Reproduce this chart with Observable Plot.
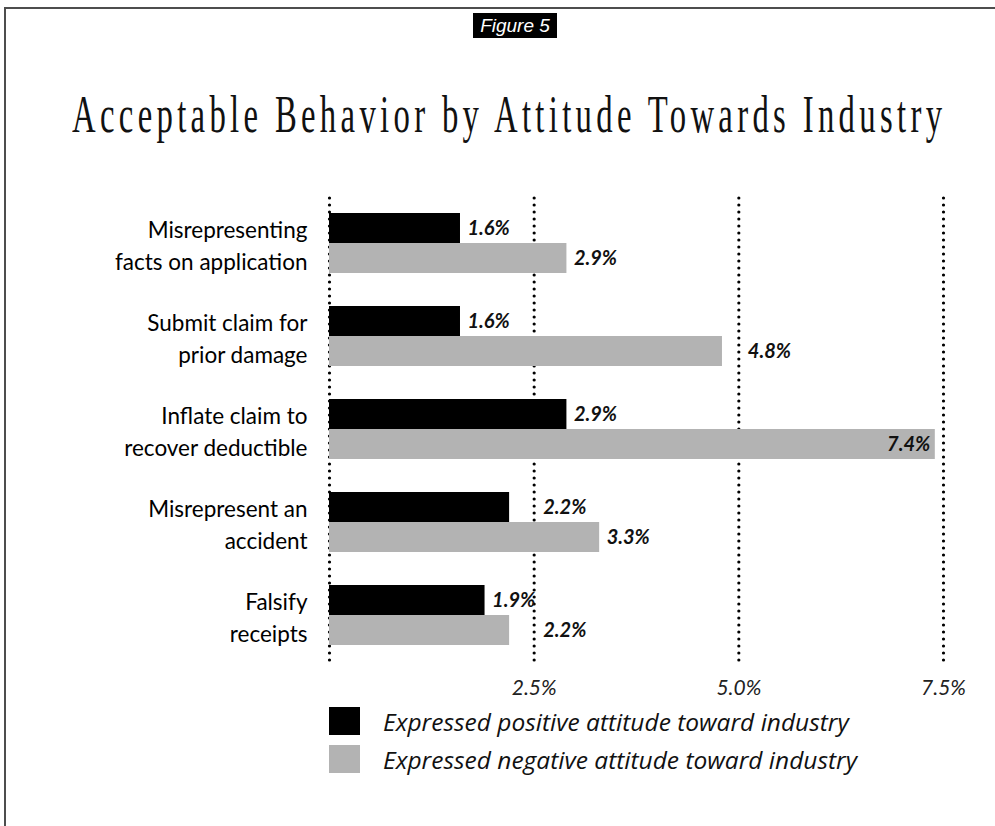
<!DOCTYPE html>
<html>
<head>
<meta charset="utf-8">
<script src="https://cdn.jsdelivr.net/npm/d3@7"></script>
<script src="https://cdn.jsdelivr.net/npm/@observablehq/plot@0.6"></script>
<style>
  html, body { margin: 0; padding: 0; background: #fff; }
  #page { position: relative; width: 995px; height: 826px; overflow: hidden; background: #fff; font-family: Lato, "Open Sans", sans-serif; }
  .frame { position: absolute; background: #4d4d4d; }
  #fig { position: absolute; left: 473px; top: 13px; width: 84px; height: 25px; background: #000; color: #fff;
         font: italic 19px "Liberation Sans", Arial, sans-serif; line-height: 25px; text-align: center; }
  #title { position: absolute; left: 72px; top: 88px; white-space: nowrap; font-family: "Liberation Serif", "Times New Roman", serif;
           font-size: 53px; line-height: 1; letter-spacing: 7px; color: #111; transform-origin: 0 0; }
  #chart { position: absolute; left: 0; top: 180px; }
  .leg { position: absolute; left: 329px; height: 28px; display: flex; align-items: center; }
  .sw { width: 31px; height: 28px; margin-right: 23px; }
  .lt { font-family: "Open Sans", sans-serif; font-style: italic; font-size: 24.5px; color: #111; white-space: nowrap; }
</style>
</head>
<body>
<div id="page">
  <div class="frame" style="left:4px;top:7px;width:991px;height:2px"></div>
  <div class="frame" style="left:4px;top:7px;width:2px;height:819px"></div>
  <div id="fig">Figure 5</div>
  <div id="title">Acceptable Behavior by Attitude Towards Industry</div>
  <div id="chart"></div>
  <div id="legend"></div>
</div>
<script>
const categories = [
  "Misrepresenting\nfacts on application",
  "Submit claim for\nprior damage",
  "Inflate claim to\nrecover deductible",
  "Misrepresent an\naccident",
  "Falsify\nreceipts"
];
const positive = [1.6, 1.6, 2.9, 2.2, 1.9];
const negative = [2.9, 4.8, 7.4, 3.3, 2.2];
const seriesNames = ["Expressed positive attitude toward industry", "Expressed negative attitude toward industry"];
const seriesColors = ["#000000", "#b3b3b3"];
const xTicks = [2.5, 5.0, 7.5];
const xMax = 7.5;

const rows = categories.flatMap((c, i) => [
  {category: c, series: seriesNames[0], value: positive[i]},
  {category: c, series: seriesNames[1], value: negative[i]}
]);

const fmt = v => v.toFixed(1) + "%";
const nearGrid = v => xTicks.find(g => g > v && g - v < 0.45);
const labelFont = {fontSize: 20, fontWeight: "bold", fontStyle: "italic", fontFamily: "Lato, sans-serif", fill: "#111", textAnchor: "start"};

function labelMarks(series, dy) {
  const data = rows.filter(d => d.series === series);
  const inside = data.filter(d => d.value > xMax - 0.5);
  const shifted = data.filter(d => d.value <= xMax - 0.5 && nearGrid(d.value) !== undefined);
  const normal = data.filter(d => d.value <= xMax - 0.5 && nearGrid(d.value) === undefined);
  return [
    Plot.text(normal, {x: "value", y: "category", dy, dx: 7, text: d => fmt(d.value), ...labelFont}),
    Plot.text(shifted, {x: d => nearGrid(d.value), y: "category", dy, dx: 9, text: d => fmt(d.value), ...labelFont}),
    Plot.text(inside, {x: "value", y: "category", dy, dx: -5, text: d => fmt(d.value), ...labelFont, textAnchor: "end"})
  ];
}

const chart = Plot.plot({
  width: 995,
  height: 525,
  marginLeft: 329,
  marginRight: 52,
  marginTop: 18,
  marginBottom: 38,
  x: {domain: [0, xMax], axis: null},
  y: {domain: categories, paddingInner: 0.355, paddingOuter: 0.1935, align: 0.417, axis: null},
  marks: [
    Plot.ruleX([0, ...xTicks], {stroke: "#000", strokeWidth: 3.2, strokeDasharray: "0,7", strokeLinecap: "round"}),
    Plot.barX(rows.filter(d => d.series === seriesNames[0]), {x: "value", y: "category", fill: seriesColors[0], insetBottom: 30}),
    Plot.barX(rows.filter(d => d.series === seriesNames[1]), {x: "value", y: "category", fill: seriesColors[1], insetTop: 30}),
    ...labelMarks(seriesNames[0], -15),
    ...labelMarks(seriesNames[1], 15),
    Plot.text(categories, {y: d => d, frameAnchor: "left", dx: -22, textAnchor: "end", lineHeight: 1.45,
      text: d => d, fontSize: 22.5, fontFamily: "Lato, sans-serif", fill: "#000"}),
    Plot.text(xTicks, {x: d => d, frameAnchor: "bottom", dy: 27, text: d => fmt(d),
      fontSize: 21, fontStyle: "italic", fontFamily: "Lato, sans-serif", fill: "#222"})
  ]
});
document.getElementById("chart").appendChild(chart);

// legend
const legend = document.getElementById("legend");
seriesNames.forEach((name, i) => {
  const row = document.createElement("div");
  row.className = "leg";
  row.style.top = (707 + i * 38) + "px";
  const sw = document.createElement("div");
  sw.className = "sw";
  sw.style.background = seriesColors[i];
  const lt = document.createElement("span");
  lt.className = "lt";
  lt.textContent = name;
  row.appendChild(sw);
  row.appendChild(lt);
  legend.appendChild(row);
});

// fit title width
const title = document.getElementById("title");
const w = title.getBoundingClientRect().width - 7;
title.style.transform = `scaleX(${870 / w})`;
</script>
</body>
</html>
